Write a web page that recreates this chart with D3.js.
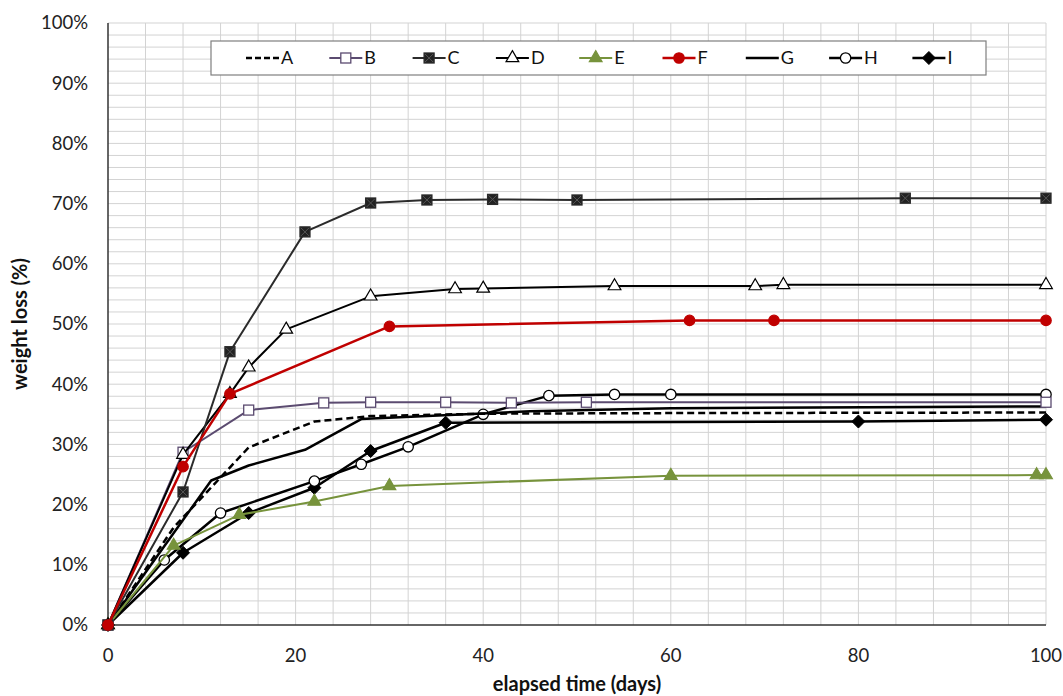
<!DOCTYPE html>
<head>
  <meta charset="utf-8">
  <style>
    body { margin: 0; background: #fff; }
    svg { display: block; font-family: Lato, "Open Sans", sans-serif; }
    .grid line { stroke: #d3d3d3; stroke-width: 1px; }
    .tick-label { font-size: 18.5px; fill: #222; }
    .axis-title { font-size: 20px; font-weight: bold; fill: #111; }
    .legend-label { font-size: 18px; fill: #111; }
  </style>
</head>

<body>
  <svg></svg>
  <script src="https://d3js.org/d3.v7.min.js"></script>
  <script type="text/javascript">
    // elapsed time (days) and weight loss (%) for each sample
    const seriesNames = ['A', 'B', 'C', 'D', 'E', 'F', 'G', 'H', 'I'];

    const daysA = [0, 7, 15, 22, 28, 40, 60, 100];
    const lossA = [0, 16.2, 29.5, 33.8, 34.7, 35.1, 35.2, 35.3];

    const daysB = [0, 8, 15, 23, 28, 36, 43, 51, 100];
    const lossB = [0, 28.7, 35.7, 36.9, 37.0, 37.0, 36.9, 37.0, 37.0];

    const daysC = [0, 8, 13, 21, 28, 34, 41, 50, 85, 100];
    const lossC = [0, 22.1, 45.4, 65.3, 70.1, 70.6, 70.7, 70.6, 70.9, 70.9];

    const daysD = [0, 8, 13, 15, 19, 28, 37, 40, 54, 69, 72, 100];
    const lossD = [0, 28.3, 38.4, 42.8, 49.1, 54.6, 55.8, 55.9, 56.3, 56.3, 56.5, 56.5];

    const daysE = [0, 7, 14, 22, 30, 60, 99, 100];
    const lossE = [0, 13.2, 18.3, 20.5, 23.1, 24.8, 24.9, 24.9];

    const daysF = [0, 8, 13, 30, 62, 71, 100];
    const lossF = [0, 26.3, 38.4, 49.6, 50.6, 50.6, 50.6];

    const daysG = [0, 11, 15, 21, 27, 45, 60, 100];
    const lossG = [0, 24.0, 26.5, 29.1, 34.2, 35.5, 36.0, 36.3];

    const daysH = [0, 6, 12, 22, 27, 32, 40, 47, 54, 60, 100];
    const lossH = [0, 10.8, 18.6, 23.9, 26.7, 29.6, 35.0, 38.1, 38.3, 38.3, 38.3];

    const daysI = [0, 8, 15, 22, 28, 36, 80, 100];
    const lossI = [0, 12.0, 18.6, 22.8, 28.9, 33.6, 33.8, 34.1];

    const xTicks = [0, 20, 40, 60, 80, 100];
    const yTicks = [0, 10, 20, 30, 40, 50, 60, 70, 80, 90, 100];

    // drawing style per series
    const styles = {
      A: { color: '#000', width: 2.5, dash: '7,4', marker: null },
      B: { color: '#5b4b70', width: 2, marker: 'square', fill: '#fff' },
      C: { color: '#2b2b2b', width: 2, marker: 'xsquare', fill: '#222' },
      D: { color: '#000', width: 2, marker: 'triangle', fill: '#fff' },
      E: { color: '#77933c', width: 2, marker: 'triangle', fill: '#77933c' },
      F: { color: '#c00000', width: 2.5, marker: 'circle', fill: '#c00000' },
      G: { color: '#000', width: 2.5, marker: null },
      H: { color: '#000', width: 2.5, marker: 'circle', fill: '#fff' },
      I: { color: '#000', width: 2.5, marker: 'diamond', fill: '#000' }
    };

    const days = { A: daysA, B: daysB, C: daysC, D: daysD, E: daysE, F: daysF, G: daysG, H: daysH, I: daysI };
    const loss = { A: lossA, B: lossB, C: lossC, D: lossD, E: lossE, F: lossF, G: lossG, H: lossH, I: lossI };

    const width = 1063, height = 696;
    const margin = { left: 108, right: 17, top: 23, bottom: 71 };

    const svg = d3.select('svg').attr('width', width).attr('height', height);

    const x = d3.scaleLinear().domain([0, 100]).range([margin.left, width - margin.right]);
    const y = d3.scaleLinear().domain([0, 100]).range([height - margin.bottom, margin.top]);

    // grid: every 4 days and every 2 %
    const grid = svg.append('g').classed('grid', true);
    grid.selectAll('.vx').data(d3.range(4, 101, 4)).enter().append('line')
        .attr('x1', d => x(d)).attr('x2', d => x(d))
        .attr('y1', y(0)).attr('y2', y(100));
    grid.selectAll('.hy').data(d3.range(2, 101, 2)).enter().append('line')
        .attr('x1', x(0)).attr('x2', x(100))
        .attr('y1', d => y(d)).attr('y2', d => y(d));

    // axes lines
    svg.append('line').attr('x1', x(0)).attr('x2', x(0)).attr('y1', y(0)).attr('y2', y(100))
        .attr('stroke', '#333').attr('stroke-width', 1.5);
    svg.append('line').attr('x1', x(0)).attr('x2', x(100)).attr('y1', y(0)).attr('y2', y(0))
        .attr('stroke', '#333').attr('stroke-width', 1.5);

    svg.selectAll('.ylab').data(yTicks).enter().append('text')
        .classed('tick-label', true)
        .attr('x', x(0) - 20).attr('y', d => y(d)).attr('dy', '0.35em')
        .attr('text-anchor', 'end')
        .text(d => d + '%');

    svg.selectAll('.xlab').data(xTicks).enter().append('text')
        .classed('tick-label', true)
        .attr('x', d => x(d)).attr('y', y(0) + 37)
        .attr('text-anchor', 'middle')
        .text(d => d);

    svg.append('text').classed('axis-title', true)
        .attr('x', (x(0) + x(100)) / 2).attr('y', 691)
        .attr('text-anchor', 'middle')
        .text('elapsed time (days)');

    svg.append('text').classed('axis-title', true)
        .attr('transform', 'translate(27,' + ((y(0) + y(100)) / 2) + ') rotate(-90)')
        .attr('text-anchor', 'middle')
        .text('weight loss (%)');

    function drawMarker(g, type, st, cx, cy) {
      if (type === 'circle') {
        g.append('circle').attr('cx', cx).attr('cy', cy).attr('r', 5.2)
            .attr('fill', st.fill).attr('stroke', st.color).attr('stroke-width', 1.3);
      } else if (type === 'square' || type === 'xsquare') {
        g.append('rect').attr('x', cx - 5).attr('y', cy - 5).attr('width', 10).attr('height', 10)
            .attr('fill', st.fill).attr('stroke', st.color).attr('stroke-width', 1.3);
        if (type === 'xsquare') {
          g.append('path').attr('d', 'M' + (cx - 4) + ',' + (cy - 4) + 'L' + (cx + 4) + ',' + (cy + 4) +
              'M' + (cx + 4) + ',' + (cy - 4) + 'L' + (cx - 4) + ',' + (cy + 4))
            .attr('stroke', '#555').attr('stroke-width', 1);
        }
      } else if (type === 'triangle') {
        g.append('path').attr('transform', 'translate(' + cx + ',' + cy + ')')
            .attr('d', d3.symbol().type(d3.symbolTriangle).size(70)())
            .attr('fill', st.fill).attr('stroke', st.color).attr('stroke-width', 1.2);
      } else if (type === 'diamond') {
        // square diamond like the spreadsheet marker
        g.append('path').attr('transform', 'translate(' + cx + ',' + cy + ')')
            .attr('d', 'M0,-6.5L6.5,0L0,6.5L-6.5,0Z')
            .attr('fill', st.fill).attr('stroke', st.color).attr('stroke-width', 1);
      }
    }

    const line = d3.line().x(d => x(d[0])).y(d => y(d[1]));

    // draw order roughly like the original (later on top)
    const order = ['I', 'H', 'G', 'A', 'E', 'B', 'D', 'C', 'F'];
    order.forEach(function(name) {
      const st = styles[name];
      const pts = days[name].map((d, i) => [d, loss[name][i]]);
      const g = svg.append('g').classed('series', true);
      g.append('path').datum(pts)
          .attr('d', line)
          .attr('fill', 'none')
          .attr('stroke', st.color)
          .attr('stroke-width', st.width)
          .attr('stroke-dasharray', st.dash || null)
          .attr('stroke-linejoin', 'round');
      if (st.marker) {
        pts.forEach(p => drawMarker(g, st.marker, st, x(p[0]), y(p[1])));
      }
    });

    // legend
    const legend = svg.append('g').classed('legend', true);
    legend.append('rect').attr('x', 211).attr('y', 41).attr('width', 775).attr('height', 34)
        .attr('fill', '#fff').attr('stroke', '#7f7f7f').attr('stroke-width', 1.2);

    seriesNames.forEach(function(name, i) {
      const st = styles[name];
      const x0 = 246 + i * 83.3;
      const gl = legend.append('g');
      gl.append('line').attr('x1', x0).attr('x2', x0 + 33).attr('y1', 58).attr('y2', 58)
          .attr('stroke', st.color).attr('stroke-width', st.width)
          .attr('stroke-dasharray', st.dash ? '6,3' : null);
      if (st.marker) drawMarker(gl, st.marker, st, x0 + 16.5, 58);
      gl.append('text').classed('legend-label', true)
          .attr('x', x0 + 35).attr('y', 58).attr('dy', '0.36em')
          .text(name);
    });
  </script>
</body>
